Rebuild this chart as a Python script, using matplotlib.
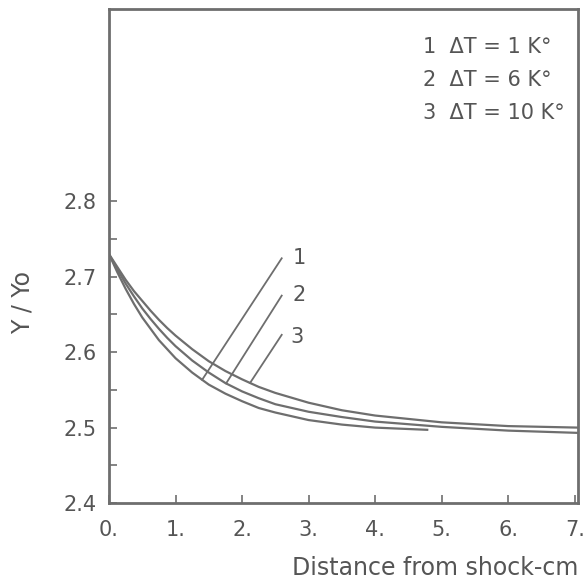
import matplotlib
matplotlib.use("Agg")
import matplotlib.pyplot as plt
import numpy as np

# ---- data ----
x_common = [0, 0.125, 0.25, 0.375, 0.5, 0.625, 0.75, 0.875, 1.0, 1.25, 1.5, 1.75,
            2.0, 2.25, 2.5, 3.0, 3.5, 4.0, 5.0, 6.0, 7.05]
y_curve3 = [2.730, 2.713, 2.696, 2.681, 2.668, 2.655, 2.643, 2.632, 2.622, 2.604, 2.588, 2.575,
            2.564, 2.554, 2.546, 2.533, 2.523, 2.516, 2.507, 2.502, 2.500]
y_curve2 = [2.730, 2.710, 2.691, 2.674, 2.658, 2.644, 2.631, 2.619, 2.608, 2.589, 2.573, 2.559,
            2.548, 2.539, 2.531, 2.521, 2.514, 2.508, 2.501, 2.496, 2.493]
x_curve1 = [0, 0.125, 0.25, 0.375, 0.5, 0.625, 0.75, 0.875, 1.0, 1.25, 1.5, 1.75,
            2.0, 2.25, 2.5, 3.0, 3.5, 4.0, 4.8]
y_curve1 = [2.730, 2.706, 2.684, 2.664, 2.646, 2.631, 2.616, 2.604, 2.592, 2.573, 2.557, 2.545,
            2.535, 2.526, 2.520, 2.510, 2.504, 2.500, 2.497]

curve_labels = ["1", "2", "3"]
legend_lines = ["1  ΔT = 1 K°", "2  ΔT = 6 K°", "3  ΔT = 10 K°"]
leader_start_x = [1.40, 1.76, 2.12]
leader_end = [(2.596, 2.7245), (2.596, 2.675), (2.596, 2.623)]
label_pos = [(2.86, 2.725), (2.86, 2.676), (2.83, 2.620)]

xticks = [0, 1, 2, 3, 4, 5, 6, 7]
xtick_labels = ["0.", "1.", "2.", "3.", "4.", "5.", "6.", "7."]
yticks = [2.4, 2.5, 2.6, 2.7, 2.8]
ytick_labels = ["2.4", "2.5", "2.6", "2.7", "2.8"]
yminor = [2.45, 2.55, 2.65, 2.75]

line_c = "#6e6e6e"
text_c = "#555555"

plt.rcParams['font.family'] = ['DejaVu Sans']

fig = plt.figure(figsize=(5.87, 5.86), dpi=100)
ax = fig.add_axes([0.1857, 0.1416, 0.799, 0.843])

curves = [(x_curve1, y_curve1), (x_common, y_curve2), (x_common, y_curve3)]
for xs, ys in curves:
    ax.plot(xs, ys, color=line_c, lw=1.6, solid_capstyle='butt', solid_joinstyle='round')

for i, (xs, ys) in enumerate(curves):
    x0 = leader_start_x[i]
    y0 = np.interp(x0, xs, ys)
    x1, y1 = leader_end[i]
    ax.plot([x0, x1], [y0, y1], color=line_c, lw=1.3)
    ax.text(label_pos[i][0], label_pos[i][1], curve_labels[i], fontsize=15,
            color=text_c, ha='center', va='center')

for i, t in enumerate(legend_lines):
    ax.text(0.669, [0.923, 0.856, 0.789][i], t, transform=ax.transAxes,
            fontsize=15, color=text_c, ha='left', va='center')

ax.set_xlim(0, 7.05)
ax.set_ylim(2.4, 3.055)
ax.set_xticks(xticks)
ax.set_xticklabels(xtick_labels)
ax.set_yticks(yticks)
ax.set_yticklabels(ytick_labels)
ax.set_yticks(yminor, minor=True)

ax.tick_params(axis='both', which='both', direction='in', length=6, width=1.2,
               colors=line_c, labelcolor=text_c, labelsize=15)
ax.tick_params(axis='y', pad=9)
ax.tick_params(axis='x', pad=12)

for s in ax.spines.values():
    s.set_color(line_c)
    s.set_linewidth(2.0)

ax.set_xlabel("Distance from shock-cm", fontsize=17, color=text_c, loc='right', labelpad=12)
ax.set_ylabel("Y / Yo", fontsize=17, color=text_c)
ax.yaxis.set_label_coords(-0.185, 0.405)
ax.yaxis.label.set_va('center')

fig.savefig("out.png", dpi=100)
